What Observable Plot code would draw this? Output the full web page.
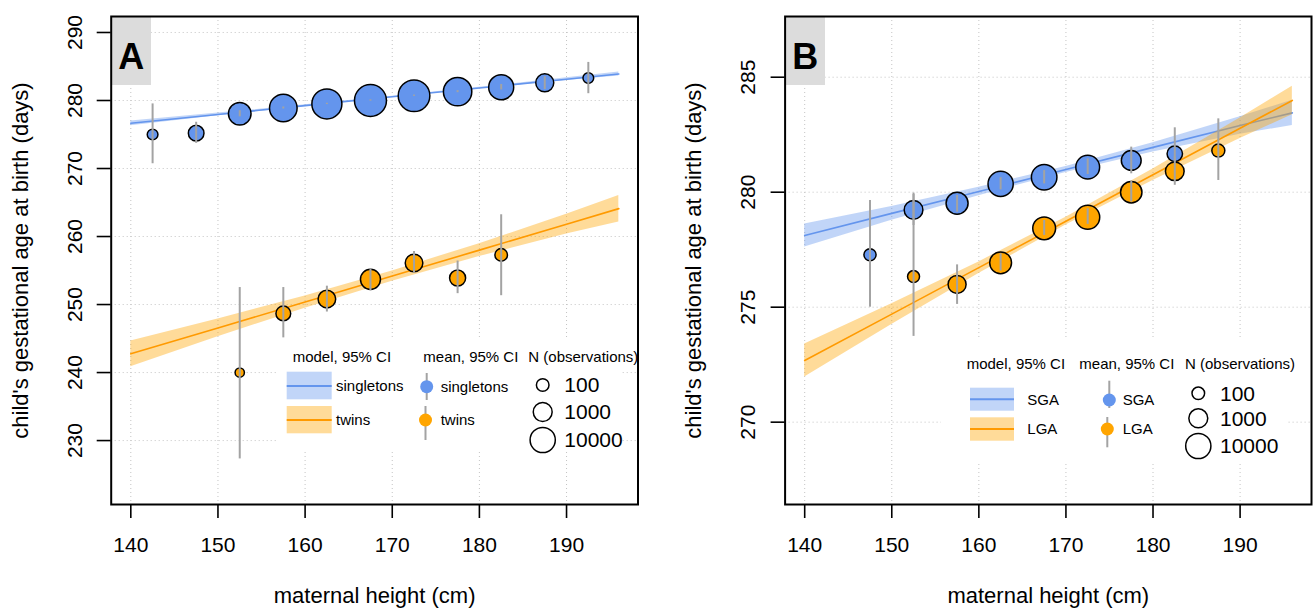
<!DOCTYPE html>
<html><head><meta charset="utf-8">
<script src="https://cdn.jsdelivr.net/npm/d3@7"></script>
<script src="https://cdn.jsdelivr.net/npm/@observablehq/plot@0.6"></script>
<style>
body{margin:0;background:#fff;font-family:"Liberation Sans",Arial,sans-serif;}
#wrap{position:relative;width:1313px;height:609px;overflow:hidden;}
#a{position:absolute;left:0;top:0;}
#b{position:absolute;left:656px;top:0;}
</style></head><body><div id="wrap"><div id="a"></div><div id="b"></div></div>
<script>
// ---------- shared ----------
const xTicks = [140, 150, 160, 170, 180, 190];
const modelX = [140, 150, 160, 170, 180, 190, 196];
const sizeLegendN = [100, 1000, 10000];
const sizeLegendLabels = ["100", "1000", "10000"];

// ---------- panel A : singletons vs twins ----------
const aYTicks = [230, 240, 250, 260, 270, 280, 290];
const aSingX = [142.5, 147.5, 152.5, 157.5, 162.5, 167.5, 172.5, 177.5, 182.5, 187.5, 192.5];
const aSingMean = [275.0, 275.2, 278.05, 278.9, 279.5, 280.0, 280.7, 281.3, 281.95, 282.6, 283.3];
const aSingLo = [270.7, 273.7, 277.6, 278.75, 279.4, 279.9, 280.6, 281.15, 281.55, 281.6, 281.0];
const aSingHi = [279.5, 276.8, 278.5, 279.05, 279.6, 280.1, 280.8, 281.45, 282.35, 283.5, 285.6];
const aSingN = [50, 300, 3900, 24000, 58000, 120000, 104000, 32000, 9300, 720, 50];
const aTwinX = [152.5, 157.5, 162.5, 167.5, 172.5, 177.5, 182.5];
const aTwinMean = [240.0, 248.7, 250.8, 253.7, 256.1, 253.9, 257.3];
const aTwinLo = [227.3, 245.1, 248.9, 252.05, 254.6, 251.6, 251.3];
const aTwinHi = [252.5, 252.5, 252.7, 255.25, 257.8, 256.4, 263.2];
const aTwinN = [30, 220, 620, 1500, 620, 350, 100];
const aSingFit = [276.65, 277.95, 279.24, 280.54, 281.83, 283.13, 283.9];
const aSingFitLo = [276.3, 277.75, 279.12, 280.46, 281.73, 282.93, 283.6];
const aSingFitHi = [277.0, 278.15, 279.36, 280.62, 281.93, 283.33, 284.2];
const aTwinFit = [242.75, 246.56, 250.37, 254.19, 258.0, 261.81, 264.1];
const aTwinFitLo = [240.85, 245.26, 249.47, 253.44, 257.05, 260.36, 262.15];
const aTwinFitHi = [244.65, 247.86, 251.27, 254.94, 258.95, 263.26, 266.05];
const aSeriesLabels = ["singletons", "twins"];

// ---------- panel B : SGA vs LGA ----------
const bYTicks = [270, 275, 280, 285];
const bSgaX = [147.5, 152.5, 157.5, 162.5, 167.5, 172.5, 177.5, 182.5];
const bSgaMean = [277.28, 279.23, 279.52, 280.36, 280.65, 281.09, 281.38, 281.67];
const bSgaLo = [275.0, 278.55, 279.13, 280.1, 280.36, 280.77, 280.8, 280.6];
const bSgaHi = [279.64, 279.9, 279.86, 280.63, 280.94, 281.45, 281.96, 282.8];
const bSgaN = [86, 930, 3100, 10000, 11200, 6000, 1390, 280];
const bLgaX = [152.5, 157.5, 162.5, 167.5, 172.5, 177.5, 182.5, 187.5];
const bLgaMean = [276.33, 275.99, 276.93, 278.43, 278.91, 280.0, 280.91, 281.81];
const bLgaLo = [273.73, 275.12, 276.57, 278.12, 278.6, 279.57, 280.3, 280.51];
const bLgaHi = [279.96, 276.84, 277.32, 278.77, 279.28, 280.48, 281.55, 283.19];
const bLgaN = [80, 720, 2900, 4200, 6500, 2500, 930, 116];
const bSgaFit = [278.12, 279.08, 280.03, 280.99, 281.95, 282.9, 283.45];
const bSgaFitLo = [277.62, 278.78, 279.85, 280.86, 281.75, 282.52, 282.9];
const bSgaFitHi = [278.62, 279.38, 280.21, 281.12, 282.15, 283.28, 284.0];
const bLgaFit = [272.68, 274.7, 276.72, 278.74, 280.76, 282.78, 283.99];
const bLgaFitLo = [271.96, 274.25, 276.47, 278.57, 280.51, 282.33, 283.37];
const bLgaFitHi = [273.4, 275.15, 276.97, 278.91, 281.01, 283.23, 284.61];
const bSeriesLabels = ["SGA", "LGA"];

// ---------- styling ----------
const FONT = "Liberation Sans, Arial, Helvetica, sans-serif";
const BLUE = "#6495ED", ORANGE = "#FFA500", ORANGE_LINE = "#FF9A00";
const BAR = "#a3a3a3", GRID = "#c4c4c4";

const modelRows = (fit, lo, hi) => modelX.map((x, i) => ({x, fit: fit[i], lo: lo[i], hi: hi[i]}));
const meanRows = (xs, m, lo, hi, n) => xs.map((x, i) => ({x, m: m[i], lo: lo[i], hi: hi[i], n: n[i]}));

function tagMark(letter, x0, x1) {
  return () => {
    const g = d3.create("svg:g");
    g.append("rect").attr("x", x0).attr("y", 17).attr("width", x1 - x0).attr("height", 68).attr("fill", "#dcdcdc");
    g.append("text").attr("x", (x0 + x1) / 2).attr("y", 56).attr("dy", "0.36em")
      .attr("text-anchor", "middle").attr("font-family", FONT).attr("font-weight", "bold")
      .attr("font-size", 36).attr("fill", "black").text(letter);
    return g.node();
  };
}

function legendMark(L, labels) {
  return (index, scales) => {
    const rf = (n) => (scales && typeof scales.r === "function") ? scales.r(n) : 3.15 * Math.log10(n);
    const g = d3.create("svg:g").attr("font-family", FONT).attr("text-anchor", "start");
    g.append("rect").attr("x", L.box[0]).attr("y", L.box[1])
      .attr("width", L.box[2] - L.box[0]).attr("height", L.box[3] - L.box[1]).attr("fill", "white");
    const txt = (x, y, s, fs) => g.append("text").attr("x", x).attr("y", y).attr("dy", "0.35em")
      .attr("text-anchor", "start").attr("font-size", fs).attr("fill", "black").text(s);
    txt(L.headX[0], L.headY, "model, 95% CI", 15);
    txt(L.headX[1], L.headY, "mean, 95% CI", 15);
    txt(L.headX[2], L.headY, "N (observations)", 15);
    const cols = [[BLUE, BLUE], [ORANGE, ORANGE_LINE]];
    L.rows.forEach((r, i) => {
      g.append("rect").attr("x", L.swX[0]).attr("y", r.y0).attr("width", L.swX[1] - L.swX[0])
        .attr("height", r.y1 - r.y0).attr("fill", cols[i][0]).attr("fill-opacity", 0.4);
      g.append("line").attr("x1", L.swX[0]).attr("x2", L.swX[1]).attr("y1", r.ly).attr("y2", r.ly)
        .attr("stroke", cols[i][1]).attr("stroke-width", 2);
      txt(L.labelX, r.ly, labels[i], 15);
      const m = L.means[i];
      g.append("line").attr("x1", m.px).attr("x2", m.px).attr("y1", m.b0).attr("y2", m.b1)
        .attr("stroke", BAR).attr("stroke-width", 2);
      g.append("circle").attr("cx", m.px).attr("cy", m.py).attr("r", 6.5).attr("fill", cols[i][0]);
      txt(L.meanLabelX, m.py, labels[i], 15);
    });
    sizeLegendN.forEach((n, i) => {
      g.append("circle").attr("cx", L.sizeX).attr("cy", L.sizeY[i]).attr("r", rf(n))
        .attr("fill", "none").attr("stroke", "black").attr("stroke-width", 1.5);
      txt(L.sizeLabelX, L.sizeY[i], sizeLegendLabels[i], 21);
    });
    return g.node();
  };
}

function panel(cfg) {
  const s1m = cfg.models[0], s2m = cfg.models[1];
  const s1p = cfg.means[0], s2p = cfg.means[1];
  return Plot.plot({
    width: cfg.width, height: 609,
    marginLeft: cfg.mL, marginRight: cfg.mR, marginTop: 16, marginBottom: 105,
    style: {fontFamily: FONT, fontSize: "15px", background: "white", overflow: "visible"},
    x: {domain: [137.75, 198.2], label: null},
    y: {domain: cfg.yDomain, label: null},
    r: {type: "log", domain: [1, 1e5], range: [0, 15.75]},
    marks: [
      Plot.gridX({ticks: xTicks, stroke: GRID, strokeOpacity: 1, strokeDasharray: "1,3"}),
      Plot.gridY({ticks: cfg.yTicks, stroke: GRID, strokeOpacity: 1, strokeDasharray: "1,3"}),
      legendMark(cfg.legend, cfg.labels),
      tagMark(cfg.tag, cfg.tagX[0], cfg.tagX[1]),
      Plot.areaY(s1m, {x: "x", y1: "lo", y2: "hi", fill: BLUE, fillOpacity: 0.4}),
      Plot.lineY(s1m, {x: "x", y: "fit", stroke: BLUE, strokeWidth: 1.6}),
      Plot.areaY(s2m, {x: "x", y1: "lo", y2: "hi", fill: ORANGE, fillOpacity: 0.4}),
      Plot.lineY(s2m, {x: "x", y: "fit", stroke: ORANGE_LINE, strokeWidth: 1.6}),
      Plot.dot(s1p, {x: "x", y: "m", r: "n", fill: BLUE, stroke: "black", strokeWidth: 1.5}),
      Plot.ruleX(s1p, {x: "x", y1: "lo", y2: "hi", stroke: BAR, strokeWidth: 2}),
      Plot.dot(s2p, {x: "x", y: "m", r: "n", fill: ORANGE, stroke: "black", strokeWidth: 1.5}),
      Plot.ruleX(s2p, {x: "x", y1: "lo", y2: "hi", stroke: BAR, strokeWidth: 2}),
      Plot.axisX({ticks: xTicks, tickSize: 14, tickPadding: 19, fontSize: 21, label: null, strokeWidth: 1.6}),
      Plot.axisY({ticks: cfg.yTicks, tickSize: 14, tickPadding: cfg.yPad, tickRotate: -90, fontSize: 21, label: null, strokeWidth: 1.6}),
      Plot.text(["maternal height (cm)"], {frameAnchor: "bottom", dy: 98, fontSize: 22, textAnchor: "middle", lineAnchor: "bottom"}),
      Plot.text(["child's gestational age at birth (days)"], {frameAnchor: "left", dx: -90.7, rotate: -90, fontSize: 22, textAnchor: "middle", lineAnchor: "middle"}),
      Plot.frame({stroke: "black", strokeWidth: 2})
    ]
  });
}

const plotA = panel({
  width: 656, mL: 110.7, mR: 18.5, yDomain: [220.6, 292.35], yTicks: aYTicks, yPad: 15,
  labels: aSeriesLabels, tag: "A", tagX: [111.7, 151],
  models: [modelRows(aSingFit, aSingFitLo, aSingFitHi), modelRows(aTwinFit, aTwinFitLo, aTwinFitHi)],
  means: [meanRows(aSingX, aSingMean, aSingLo, aSingHi, aSingN), meanRows(aTwinX, aTwinMean, aTwinLo, aTwinHi, aTwinN)],
  legend: {
    box: [278, 337, 620, 451], headY: 357, headX: [292.7, 423.3, 528.3],
    swX: [286.7, 331.7], labelX: 336,
    rows: [{y0: 371.7, y1: 399.3, ly: 386}, {y0: 406, y1: 433.3, ly: 420}],
    means: [{px: 426.7, py: 386.7, b0: 373, b1: 400}, {px: 425.5, py: 420, b0: 406, b1: 440}],
    meanLabelX: 440.7, sizeX: 542.7, sizeY: [385, 412, 440], sizeLabelX: 564.3
  }
});
document.getElementById("a").appendChild(plotA);

const plotB = panel({
  width: 657, mL: 128.6, mR: 2, yDomain: [266.42, 287.64], yTicks: bYTicks, yPad: 16,
  labels: bSeriesLabels, tag: "B", tagX: [129.6, 169],
  models: [modelRows(bSgaFit, bSgaFitLo, bSgaFitHi), modelRows(bLgaFit, bLgaFitLo, bLgaFitHi)],
  means: [meanRows(bSgaX, bSgaMean, bSgaLo, bSgaHi, bSgaN), meanRows(bLgaX, bLgaMean, bLgaLo, bLgaHi, bLgaN)],
  legend: {
    box: [285, 340, 631, 462], headY: 363.3, headX: [310.7, 423.3, 529],
    swX: [314, 358], labelX: 371.3,
    rows: [{y0: 387.7, y1: 410.7, ly: 399.3}, {y0: 417.3, y1: 440.7, ly: 429}],
    means: [{px: 453.3, py: 400, b0: 380.7, b1: 408}, {px: 451.3, py: 429, b0: 417, b1: 447.3}],
    meanLabelX: 466.7, sizeX: 542.3, sizeY: [393.3, 418.3, 446], sizeLabelX: 564
  }
});
document.getElementById("b").appendChild(plotB);
</script></body></html>
